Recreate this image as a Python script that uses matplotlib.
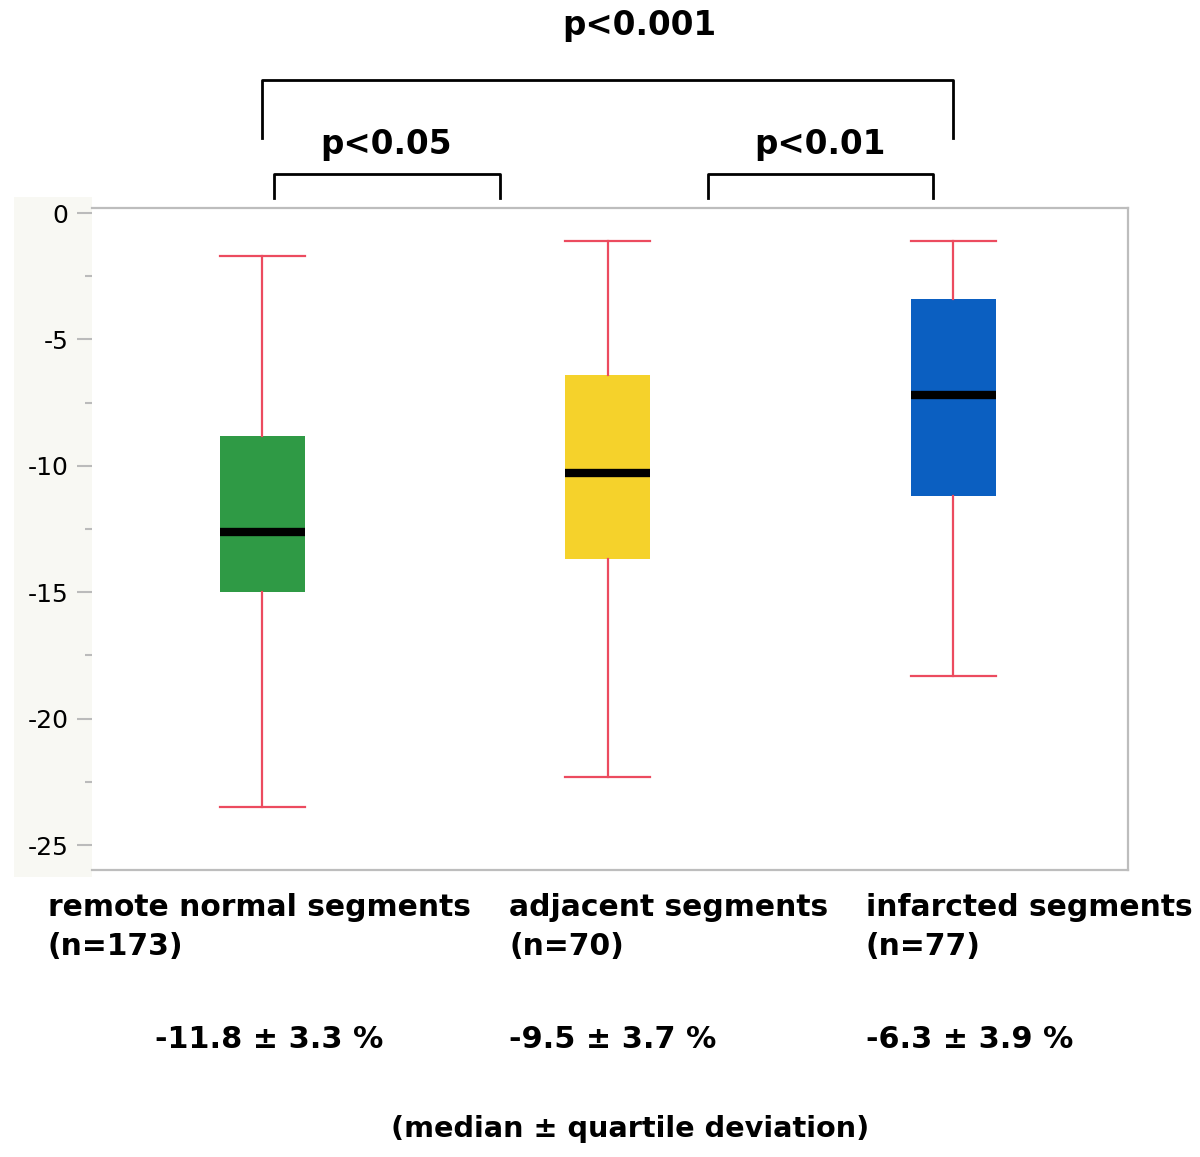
import matplotlib.pyplot as plt
from matplotlib.patches import Rectangle
from matplotlib.ticker import MultipleLocator
from matplotlib.transforms import blended_transform_factory

plt.rcParams['font.family'] = ['DejaVu Sans']
plt.rcParams['axes.unicode_minus'] = False

# values
groups = ["remote normal segments\n(n=173)", "adjacent segments\n(n=70)", "infarcted segments\n(n=77)"]
whis_hi = [-1.7, -1.1, -1.1]
q3 = [-8.8, -6.4, -3.4]
medians = [-12.6, -10.3, -7.2]
q1 = [-15.0, -13.7, -11.2]
whis_lo = [-23.5, -22.3, -18.3]
summaries = ["-11.8 \u00b1 3.3 %", "-9.5 \u00b1 3.7 %", "-6.3 \u00b1 3.9 %"]
colors = ["#2f9a45", "#f5d22b", "#0b5fc1"]
# (left, right, p text) for each comparison bracket, in group positions
brackets = [(0.035, 0.689, "p<0.05"), (1.29, 1.942, "p<0.01"), (0.0, 2.0, "p<0.001")]

fig = plt.figure(figsize=(12, 11.57), dpi=100)
# pale strip behind the y tick labels
fig.patches.append(Rectangle((0.0117, 0.242), 0.065, 0.588, transform=fig.transFigure,
                             facecolor="#f8f8f3", edgecolor="none", zorder=-1))
ax = fig.add_axes([0.0767, 0.248, 0.8633, 0.5722])
ax.patch.set_alpha(0)

stats = []
for i in range(len(groups)):
  stats.append(dict(med=medians[i], q1=q1[i], q3=q3[i], whislo=whis_lo[i], whishi=whis_hi[i], fliers=[]))

bp = ax.bxp(stats, positions=[0, 1, 2], widths=0.246, capwidths=0.246, patch_artist=True,
            showfliers=False,
            whiskerprops=dict(color="#ec4b5f", lw=1.6),
            capprops=dict(color="#ec4b5f", lw=1.6),
            medianprops=dict(color="black", lw=6, solid_capstyle="butt"),
            boxprops=dict(lw=0))
for patch, c in zip(bp["boxes"], colors):
  patch.set_facecolor(c)
  patch.set_edgecolor("none")

ax.set_xlim(-0.492, 2.506)
ax.set_ylim(-25.99, 0.2)
ax.yaxis.set_major_locator(MultipleLocator(5))
ax.yaxis.set_minor_locator(MultipleLocator(2.5))
ax.set_xticks([])
ax.tick_params(axis="y", which="major", length=11, width=1.5, color="#bbbbbb", labelsize=18, pad=6)
ax.tick_params(axis="y", which="minor", length=5, width=1.5, color="#bbbbbb")
ax.spines["left"].set_visible(False)
for s in ["top", "right", "bottom"]:
  ax.spines[s].set_color("#bdbdbd")
  ax.spines[s].set_linewidth(1.6)

# significance brackets: x in group positions, text baseline in figure pixels from the top
legs = [(1.53, 0.6), (1.53, 0.6), (5.26, 2.97)]
text_x = [0.359, 1.615, 1.091]
text_base = [154, 154, 35]
trans = blended_transform_factory(ax.transData, fig.transFigure)
for (x0, x1, label), (top, bot), tx, tb in zip(brackets, legs, text_x, text_base):
  ax.plot([x0, x0, x1, x1], [bot, top, top, bot], color="black", lw=2, clip_on=False)
  ax.text(tx, 1 - tb / 1157, label, transform=trans, ha="center", va="baseline",
          fontsize=23.5, fontweight="bold", clip_on=False)

# group labels and summaries under the plot
label_x = [48, 509, 866]
summary_x = [155, 509, 866]
for i in range(len(groups)):
  name, n = groups[i].split("\n")
  fig.text(label_x[i] / 1200, 1 - 916 / 1157, name, ha="left", va="baseline",
           fontsize=21.4, fontweight="bold")
  fig.text(label_x[i] / 1200, 1 - 955 / 1157, n, ha="left", va="baseline",
           fontsize=21.4, fontweight="bold")
  fig.text(summary_x[i] / 1200, 1 - 1048 / 1157, summaries[i], ha="left", va="baseline",
           fontsize=21.8, fontweight="bold")
fig.text(630 / 1200, 1 - 1137 / 1157, "(median \u00b1 quartile deviation)", ha="center", va="baseline",
         fontsize=20.7, fontweight="bold")

fig.savefig("out.png", dpi=100, facecolor="white")
